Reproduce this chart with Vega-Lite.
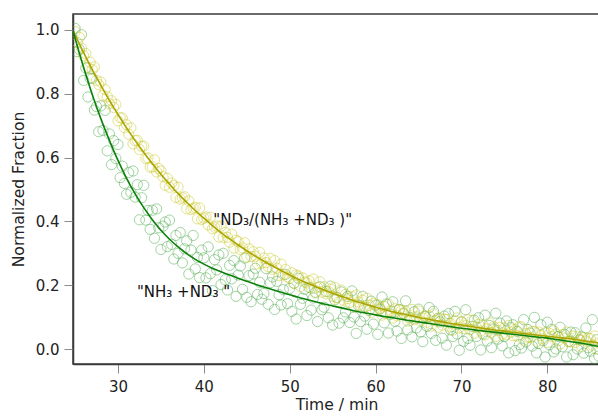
{
  "$schema": "https://vega.github.io/schema/vega-lite/v6.json",
  "width": 527,
  "height": 350,
  "autosize": "none",
  "padding": {"left": 73, "top": 14, "right": 0, "bottom": 52},
  "background": "white",
  "config": {
    "font": "DejaVu Sans",
    "view": {"stroke": "#3a3a3a", "strokeWidth": 1.5},
    "axis": {"grid": false, "domainColor": "#3a3a3a", "domainWidth": 1.5, "tickColor": "#8a8a8a", "tickSize": 9, "tickWidth": 1, "labelFont": "DejaVu Sans", "labelFontSize": 15, "labelColor": "#222222", "titleFont": "DejaVu Sans", "titleFontSize": 15.6, "titleFontWeight": "normal", "titleColor": "#222222"}
  },
  "datasets": {
    "pts": [
      {"t":25,"tot":1.005,"rat":0.995},{"t":25.25,"tot":0.932,"rat":0.961},{"t":25.5,"tot":0.939,"rat":0.977},{"t":25.75,"tot":0.985,"rat":0.943},
      {"t":26,"tot":0.842,"rat":0.919},{"t":26.25,"tot":0.881,"rat":0.926},{"t":26.5,"tot":0.790,"rat":0.883},{"t":26.75,"tot":0.849,"rat":0.899},
      {"t":27,"tot":0.848,"rat":0.876},{"t":27.25,"tot":0.749,"rat":0.884},{"t":27.5,"tot":0.760,"rat":0.842},{"t":27.75,"tot":0.681,"rat":0.829},
      {"t":28,"tot":0.762,"rat":0.837},{"t":28.25,"tot":0.685,"rat":0.795},{"t":28.5,"tot":0.748,"rat":0.813},{"t":28.75,"tot":0.621,"rat":0.791},
      {"t":29,"tot":0.674,"rat":0.769},{"t":29.25,"tot":0.578,"rat":0.778},{"t":29.5,"tot":0.653,"rat":0.757},{"t":29.75,"tot":0.597,"rat":0.766},
      {"t":30,"tot":0.641,"rat":0.715},{"t":30.25,"tot":0.537,"rat":0.725},{"t":30.5,"tot":0.573,"rat":0.724},{"t":30.75,"tot":0.519,"rat":0.694},
      {"t":31,"tot":0.485,"rat":0.703},{"t":31.25,"tot":0.553,"rat":0.673},{"t":31.5,"tot":0.491,"rat":0.693},{"t":31.75,"tot":0.558,"rat":0.643},
      {"t":32,"tot":0.476,"rat":0.653},{"t":32.25,"tot":0.515,"rat":0.654},{"t":32.5,"tot":0.405,"rat":0.625},{"t":32.75,"tot":0.474,"rat":0.635},
      {"t":33,"tot":0.513,"rat":0.636},{"t":33.25,"tot":0.404,"rat":0.597},{"t":33.5,"tot":0.434,"rat":0.599},{"t":33.75,"tot":0.375,"rat":0.570},
      {"t":34,"tot":0.435,"rat":0.571},{"t":34.25,"tot":0.347,"rat":0.593},{"t":34.5,"tot":0.439,"rat":0.555},{"t":34.75,"tot":0.380,"rat":0.566},
      {"t":35,"tot":0.312,"rat":0.558},{"t":35.25,"tot":0.385,"rat":0.540},{"t":35.5,"tot":0.398,"rat":0.513},{"t":35.75,"tot":0.321,"rat":0.535},
      {"t":36,"tot":0.404,"rat":0.507},{"t":36.25,"tot":0.328,"rat":0.520},{"t":36.5,"tot":0.282,"rat":0.512},{"t":36.75,"tot":0.356,"rat":0.475},
      {"t":37,"tot":0.300,"rat":0.507},{"t":37.25,"tot":0.365,"rat":0.470},{"t":37.5,"tot":0.270,"rat":0.474},{"t":37.75,"tot":0.314,"rat":0.477},
      {"t":38,"tot":0.339,"rat":0.440},{"t":38.25,"tot":0.235,"rat":0.464},{"t":38.5,"tot":0.310,"rat":0.437},{"t":38.75,"tot":0.356,"rat":0.441},
      {"t":39,"tot":0.251,"rat":0.444},{"t":39.25,"tot":0.287,"rat":0.408},{"t":39.5,"tot":0.224,"rat":0.442},{"t":39.75,"tot":0.310,"rat":0.406},
      {"t":40,"tot":0.286,"rat":0.410},{"t":40.25,"tot":0.223,"rat":0.414},{"t":40.5,"tot":0.320,"rat":0.389},{"t":40.75,"tot":0.236,"rat":0.413},
      {"t":41,"tot":0.183,"rat":0.377},{"t":41.25,"tot":0.280,"rat":0.382},{"t":41.5,"tot":0.248,"rat":0.386},{"t":41.75,"tot":0.295,"rat":0.351},
      {"t":42,"tot":0.202,"rat":0.385},{"t":42.25,"tot":0.300,"rat":0.350},{"t":42.5,"tot":0.217,"rat":0.365},{"t":42.75,"tot":0.185,"rat":0.350},
      {"t":43,"tot":0.262,"rat":0.335},{"t":43.25,"tot":0.220,"rat":0.360},{"t":43.5,"tot":0.277,"rat":0.316},{"t":43.75,"tot":0.165,"rat":0.341},
      {"t":44,"tot":0.232,"rat":0.336},{"t":44.25,"tot":0.260,"rat":0.312},{"t":44.5,"tot":0.187,"rat":0.317},{"t":44.75,"tot":0.285,"rat":0.333},
      {"t":45,"tot":0.162,"rat":0.288},{"t":45.25,"tot":0.230,"rat":0.314},{"t":45.5,"tot":0.148,"rat":0.290},{"t":45.75,"tot":0.235,"rat":0.305},
      {"t":46,"tot":0.253,"rat":0.291},{"t":46.25,"tot":0.171,"rat":0.267},{"t":46.5,"tot":0.209,"rat":0.303},{"t":46.75,"tot":0.156,"rat":0.269},
      {"t":47,"tot":0.174,"rat":0.285},{"t":47.25,"tot":0.252,"rat":0.271},{"t":47.5,"tot":0.140,"rat":0.258},{"t":47.75,"tot":0.208,"rat":0.284},
      {"t":48,"tot":0.226,"rat":0.250},{"t":48.25,"tot":0.124,"rat":0.277},{"t":48.5,"tot":0.212,"rat":0.253},{"t":48.75,"tot":0.170,"rat":0.230},
      {"t":49,"tot":0.138,"rat":0.266},{"t":49.25,"tot":0.186,"rat":0.233},{"t":49.5,"tot":0.234,"rat":0.249},{"t":49.75,"tot":0.142,"rat":0.226},
      {"t":50,"tot":0.190,"rat":0.222},{"t":50.25,"tot":0.118,"rat":0.239},{"t":50.5,"tot":0.206,"rat":0.206},{"t":50.75,"tot":0.094,"rat":0.232},
      {"t":51,"tot":0.222,"rat":0.229},{"t":51.25,"tot":0.140,"rat":0.196},{"t":51.5,"tot":0.159,"rat":0.223},{"t":51.75,"tot":0.187,"rat":0.210},
      {"t":52,"tot":0.105,"rat":0.207},{"t":52.25,"tot":0.193,"rat":0.214},{"t":52.5,"tot":0.122,"rat":0.192},{"t":52.75,"tot":0.160,"rat":0.219},
      {"t":53,"tot":0.178,"rat":0.176},{"t":53.25,"tot":0.086,"rat":0.193},{"t":53.5,"tot":0.195,"rat":0.211},{"t":53.75,"tot":0.123,"rat":0.178},
      {"t":54,"tot":0.131,"rat":0.195},{"t":54.25,"tot":0.180,"rat":0.173},{"t":54.5,"tot":0.098,"rat":0.180},{"t":54.75,"tot":0.197,"rat":0.188},
      {"t":55,"tot":0.075,"rat":0.165},{"t":55.25,"tot":0.154,"rat":0.193},{"t":55.5,"tot":0.162,"rat":0.160},{"t":55.75,"tot":0.081,"rat":0.148},
      {"t":56,"tot":0.179,"rat":0.185},{"t":56.25,"tot":0.098,"rat":0.153},{"t":56.5,"tot":0.116,"rat":0.171},{"t":56.75,"tot":0.165,"rat":0.158},
      {"t":57,"tot":0.083,"rat":0.146},{"t":57.25,"tot":0.182,"rat":0.164},{"t":57.5,"tot":0.100,"rat":0.132},{"t":57.75,"tot":0.049,"rat":0.169},
      {"t":58,"tot":0.137,"rat":0.147},{"t":58.25,"tot":0.086,"rat":0.135},{"t":58.5,"tot":0.165,"rat":0.153},{"t":58.75,"tot":0.103,"rat":0.131},
      {"t":59,"tot":0.062,"rat":0.159},{"t":59.25,"tot":0.121,"rat":0.137},{"t":59.5,"tot":0.150,"rat":0.115},{"t":59.75,"tot":0.078,"rat":0.143},
      {"t":60,"tot":0.137,"rat":0.121},{"t":60.25,"tot":0.046,"rat":0.139},{"t":60.5,"tot":0.125,"rat":0.128},{"t":60.75,"tot":0.163,"rat":0.106},
      {"t":61,"tot":0.082,"rat":0.134},{"t":61.25,"tot":0.141,"rat":0.112},{"t":61.5,"tot":0.050,"rat":0.141},{"t":61.75,"tot":0.109,"rat":0.119},
      {"t":62,"tot":0.148,"rat":0.097},{"t":62.25,"tot":0.087,"rat":0.126},{"t":62.5,"tot":0.056,"rat":0.104},{"t":62.75,"tot":0.124,"rat":0.123},
      {"t":63,"tot":0.033,"rat":0.121},{"t":63.25,"tot":0.112,"rat":0.110},{"t":63.5,"tot":0.151,"rat":0.118},{"t":63.75,"tot":0.060,"rat":0.087},
      {"t":64,"tot":0.099,"rat":0.095},{"t":64.25,"tot":0.038,"rat":0.124},{"t":64.5,"tot":0.117,"rat":0.092},{"t":64.75,"tot":0.066,"rat":0.101},
      {"t":65,"tot":0.125,"rat":0.119},{"t":65.25,"tot":0.054,"rat":0.088},{"t":65.5,"tot":0.023,"rat":0.097},{"t":65.75,"tot":0.102,"rat":0.105},
      {"t":66,"tot":0.071,"rat":0.084},{"t":66.25,"tot":0.130,"rat":0.103},{"t":66.5,"tot":0.049,"rat":0.072},{"t":66.75,"tot":0.118,"rat":0.110},
      {"t":67,"tot":0.027,"rat":0.089},{"t":67.25,"tot":0.096,"rat":0.068},{"t":67.5,"tot":0.085,"rat":0.097},{"t":67.75,"tot":0.034,"rat":0.075},
      {"t":68,"tot":0.103,"rat":0.094},{"t":68.25,"tot":0.012,"rat":0.093},{"t":68.5,"tot":0.111,"rat":0.072},{"t":68.75,"tot":0.060,"rat":0.080},
      {"t":69,"tot":0.039,"rat":0.059},{"t":69.25,"tot":0.118,"rat":0.088},{"t":69.5,"tot":0.047,"rat":0.097},{"t":69.75,"tot":-0.004,"rat":0.066},
      {"t":70,"tot":0.085,"rat":0.085},{"t":70.25,"tot":0.024,"rat":0.064},{"t":70.5,"tot":0.123,"rat":0.073},{"t":70.75,"tot":0.033,"rat":0.092},
      {"t":71,"tot":0.012,"rat":0.061},{"t":71.25,"tot":0.071,"rat":0.090},{"t":71.5,"tot":0.090,"rat":0.049},{"t":71.75,"tot":0.039,"rat":0.068},
      {"t":72,"tot":0.098,"rat":0.077},{"t":72.25,"tot":-0.003,"rat":0.056},{"t":72.5,"tot":0.047,"rat":0.075},{"t":72.75,"tot":0.106,"rat":0.044},
      {"t":73,"tot":0.025,"rat":0.063},{"t":73.25,"tot":0.074,"rat":0.082},{"t":73.5,"tot":0.004,"rat":0.051},{"t":73.75,"tot":0.063,"rat":0.070},
      {"t":74,"tot":0.112,"rat":0.039},{"t":74.25,"tot":0.031,"rat":0.058},{"t":74.5,"tot":0.081,"rat":0.068},{"t":74.75,"tot":0.010,"rat":0.047},
      {"t":75,"tot":0.039,"rat":0.066},{"t":75.25,"tot":0.088,"rat":0.045},{"t":75.5,"tot":-0.012,"rat":0.074},{"t":75.75,"tot":0.067,"rat":0.053},
      {"t":76,"tot":0.076,"rat":0.042},{"t":76.25,"tot":-0.005,"rat":0.061},{"t":76.5,"tot":0.055,"rat":0.041},{"t":76.75,"tot":0.014,"rat":0.070},
      {"t":77,"tot":0.003,"rat":0.069},{"t":77.25,"tot":0.092,"rat":0.028},{"t":77.5,"tot":0.022,"rat":0.048},{"t":77.75,"tot":0.061,"rat":0.037},
      {"t":78,"tot":0.050,"rat":0.036},{"t":78.25,"tot":0.009,"rat":0.055},{"t":78.5,"tot":0.099,"rat":0.055},{"t":78.75,"tot":-0.012,"rat":0.024},
      {"t":79,"tot":0.017,"rat":0.053},{"t":79.25,"tot":0.076,"rat":0.042},{"t":79.5,"tot":0.026,"rat":0.032},{"t":79.75,"tot":-0.025,"rat":0.051},
      {"t":80,"tot":0.084,"rat":0.020},{"t":80.25,"tot":0.013,"rat":0.049},{"t":80.5,"tot":0.062,"rat":0.039},{"t":80.75,"tot":-0.009,"rat":0.058},
      {"t":81,"tot":0.000,"rat":0.047},{"t":81.25,"tot":0.039,"rat":0.026},{"t":81.5,"tot":0.068,"rat":0.016},{"t":81.75,"tot":0.007,"rat":0.045},
      {"t":82,"tot":0.046,"rat":0.034},{"t":82.25,"tot":-0.025,"rat":0.053},{"t":82.5,"tot":0.024,"rat":0.023},{"t":82.75,"tot":0.053,"rat":0.022},
      {"t":83,"tot":-0.018,"rat":0.041},{"t":83.25,"tot":0.051,"rat":0.020},{"t":83.5,"tot":0.000,"rat":0.039},{"t":83.75,"tot":0.029,"rat":0.028},
      {"t":84,"tot":0.038,"rat":0.007},{"t":84.25,"tot":-0.013,"rat":0.036},{"t":84.5,"tot":0.066,"rat":0.025},{"t":84.75,"tot":0.004,"rat":0.034},
      {"t":85,"tot":-0.007,"rat":0.033},{"t":85.25,"tot":0.092,"rat":0.012},{"t":85.5,"tot":-0.029,"rat":0.041},{"t":85.75,"tot":0.029,"rat":0.000},
      {"t":86,"tot":-0.022,"rat":0.019}
    ],
    "fit": [
      {"t":24.75,"tot":1.0,"rat":1.0},{"t":25,"tot":0.975,"rat":0.985},{"t":26,"tot":0.882,"rat":0.929},{"t":27,"tot":0.798,"rat":0.876},{"t":28,"tot":0.722,"rat":0.827},{"t":29,"tot":0.654,"rat":0.779},
      {"t":30,"tot":0.591,"rat":0.735},{"t":31,"tot":0.535,"rat":0.693},{"t":32,"tot":0.486,"rat":0.653},{"t":33,"tot":0.443,"rat":0.616},{"t":34,"tot":0.405,"rat":0.581},
      {"t":35,"tot":0.372,"rat":0.548},{"t":36,"tot":0.344,"rat":0.517},{"t":37,"tot":0.320,"rat":0.487},{"t":38,"tot":0.299,"rat":0.460},{"t":39,"tot":0.281,"rat":0.434},
      {"t":40,"tot":0.266,"rat":0.410},{"t":41,"tot":0.253,"rat":0.387},{"t":42,"tot":0.242,"rat":0.365},{"t":43,"tot":0.232,"rat":0.345},{"t":44,"tot":0.222,"rat":0.326},
      {"t":45,"tot":0.212,"rat":0.308},{"t":46,"tot":0.203,"rat":0.291},{"t":47,"tot":0.194,"rat":0.275},{"t":48,"tot":0.186,"rat":0.260},{"t":49,"tot":0.178,"rat":0.246},
      {"t":50,"tot":0.170,"rat":0.232},{"t":51,"tot":0.162,"rat":0.219},{"t":52,"tot":0.155,"rat":0.207},{"t":53,"tot":0.148,"rat":0.196},{"t":54,"tot":0.141,"rat":0.185},
      {"t":55,"tot":0.135,"rat":0.175},{"t":56,"tot":0.129,"rat":0.165},{"t":57,"tot":0.123,"rat":0.156},{"t":58,"tot":0.117,"rat":0.147},{"t":59,"tot":0.112,"rat":0.139},
      {"t":60,"tot":0.107,"rat":0.131},{"t":61,"tot":0.102,"rat":0.124},{"t":62,"tot":0.098,"rat":0.117},{"t":63,"tot":0.093,"rat":0.111},{"t":64,"tot":0.089,"rat":0.105},
      {"t":65,"tot":0.085,"rat":0.099},{"t":66,"tot":0.081,"rat":0.094},{"t":67,"tot":0.077,"rat":0.089},{"t":68,"tot":0.073,"rat":0.084},{"t":69,"tot":0.069,"rat":0.079},
      {"t":70,"tot":0.065,"rat":0.075},{"t":71,"tot":0.062,"rat":0.071},{"t":72,"tot":0.058,"rat":0.067},{"t":73,"tot":0.055,"rat":0.063},{"t":74,"tot":0.052,"rat":0.059},
      {"t":75,"tot":0.049,"rat":0.056},{"t":76,"tot":0.046,"rat":0.052},{"t":77,"tot":0.043,"rat":0.049},{"t":78,"tot":0.040,"rat":0.046},{"t":79,"tot":0.037,"rat":0.043},
      {"t":80,"tot":0.034,"rat":0.040},{"t":81,"tot":0.030,"rat":0.037},{"t":82,"tot":0.026,"rat":0.034},{"t":83,"tot":0.022,"rat":0.031},{"t":84,"tot":0.018,"rat":0.027},
      {"t":85,"tot":0.013,"rat":0.023},{"t":86,"tot":0.008,"rat":0.019}
    ],
    "labels": [
      {"t": 41.1, "v": 0.404, "label": "\"ND₃/(NH₃ +ND₃ )\""},
      {"t": 32.2, "v": 0.18, "label": "\"NH₃ +ND₃ \""}
    ]
  },
  "layer": [
    {
      "data": {"name": "pts"},
      "mark": {"type": "point", "shape": "circle", "filled": false, "size": 105, "strokeWidth": 1, "color": "#45a845", "opacity": 0.5, "clip": true},
      "encoding": {
        "x": {"field": "t", "type": "quantitative", "title": "Time / min",
          "scale": {"domain": [24.76, 86.14], "nice": false, "zero": false},
          "axis": {"values": [30, 40, 50, 60, 70, 80], "labelPadding": 6, "titlePadding": 3}},
        "y": {"field": "tot", "type": "quantitative", "title": "Normalized Fraction",
          "scale": {"domain": [-0.047, 1.05], "nice": false, "zero": false},
          "axis": {"values": [0, 0.2, 0.4, 0.6, 0.8, 1.0], "format": ".1f", "labelPadding": 5, "titlePadding": 9}}
      }
    },
    {
      "data": {"name": "pts"},
      "mark": {"type": "point", "shape": "circle", "filled": false, "size": 105, "strokeWidth": 1, "color": "#c8c81e", "opacity": 0.5, "clip": true},
      "encoding": {
        "x": {"field": "t", "type": "quantitative"},
        "y": {"field": "rat", "type": "quantitative"}
      }
    },
    {
      "data": {"name": "fit"},
      "mark": {"type": "line", "color": "#aaa400", "strokeWidth": 1.6, "interpolate": "monotone", "clip": true},
      "encoding": {
        "x": {"field": "t", "type": "quantitative"},
        "y": {"field": "rat", "type": "quantitative"}
      }
    },
    {
      "data": {"name": "fit"},
      "mark": {"type": "line", "color": "#0b800b", "strokeWidth": 1.6, "interpolate": "monotone", "clip": true},
      "encoding": {
        "x": {"field": "t", "type": "quantitative"},
        "y": {"field": "tot", "type": "quantitative"}
      }
    },
    {
      "data": {"name": "labels"},
      "mark": {"type": "text", "align": "left", "baseline": "middle", "fontSize": 15, "color": "#111111", "font": "DejaVu Sans"},
      "encoding": {
        "x": {"field": "t", "type": "quantitative"},
        "y": {"field": "v", "type": "quantitative"},
        "text": {"field": "label"}
      }
    }
  ]
}
